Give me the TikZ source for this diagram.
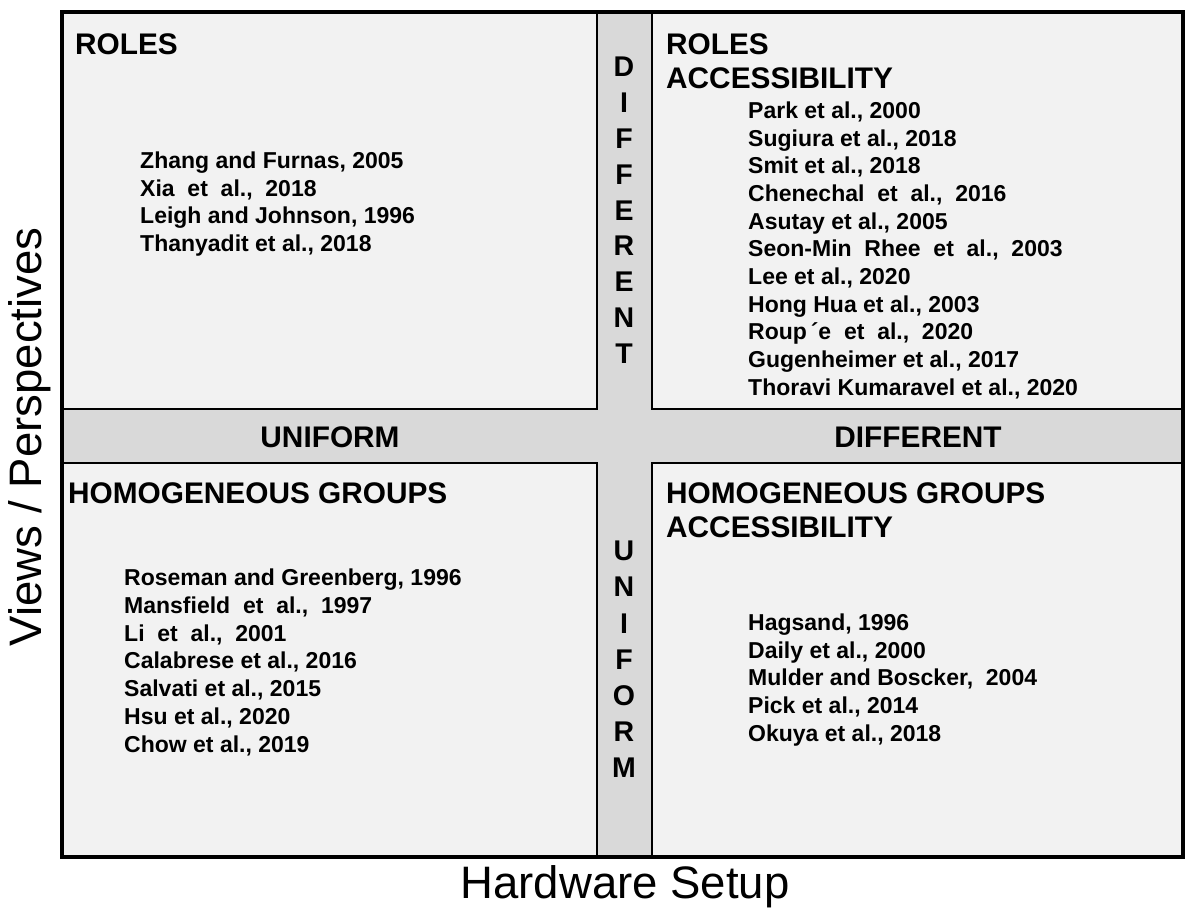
\documentclass[tikz,border=0pt]{standalone}
\usepackage{fontspec}
\setmainfont{Liberation Sans}
\definecolor{quadfill}{HTML}{F2F2F2}
\definecolor{bandfill}{HTML}{D9D9D9}
\tikzset{
  head/.style={anchor=north west, inner sep=0pt, align=left, font=\fontsize{29.8}{34}\selectfont\bfseries},
  refs/.style={anchor=north west, inner sep=0pt, align=left, font=\fontsize{23}{27.7}\selectfont\bfseries},
  letter/.style={inner sep=0pt, font=\fontsize{28.5}{30}\selectfont\bfseries},
  axislabel/.style={inner sep=0pt, font=\fontsize{45.5}{48}\selectfont}
}
\begin{document}
\begin{tikzpicture}[x=1pt,y=-1pt]
    \useasboundingbox (0,0) rectangle (1185,913);
    % Bandas y cuadrantes
    \filldraw[fill=bandfill, line width=3pt] (62,12) rectangle (1183,857);
    \filldraw[fill=quadfill, line width=2.5pt] (62,12) rectangle (597,409);
    \filldraw[fill=quadfill, line width=2.5pt] (652,12) rectangle (1183,409);
    \filldraw[fill=quadfill, line width=2.5pt] (62,463) rectangle (597,857);
    \filldraw[fill=quadfill, line width=2.5pt] (652,463) rectangle (1183,857);
    \draw[line width=3.5pt] (62,12) rectangle (1183,857);
    % Cuadrante superior izquierdo
    \node[head] (rolesL) at (75,33.5) {ROLES};
    \node[refs] (refsTL) at (140,151.5) {Zhang and Furnas, 2005\\
        Xia~ et~ al.,~ 2018\\
        Leigh and Johnson, 1996\\
        Thanyadit et al., 2018};
    % Cuadrante superior derecho
    \node[head] (rolesR) at (666,33.5) {ROLES\\ACCESSIBILITY};
    \node[refs] (refsTR) at (748,101.5) {Park et al., 2000\\
        Sugiura et al., 2018\\
        Smit et al., 2018\\
        Chenechal~ et~ al.,~ 2016\\
        Asutay et al., 2005\\
        Seon-Min~ Rhee~ et~ al.,~ 2003\\
        Lee et al., 2020\\
        Hong Hua et al., 2003\\
        Roup\,´e~ et~ al.,~ 2020\\
        Gugenheimer et al., 2017\\
        Thoravi Kumaravel et al., 2020};
    % Cuadrante inferior izquierdo
    \node[head] (homoL) at (68,482.5) {HOMOGENEOUS GROUPS};
    \node[refs] (refsBL) at (124,569) {Roseman and Greenberg, 1996\\
        Mansfield~ et~ al.,~ 1997\\
        Li~ et~ al.,~ 2001\\
        Calabrese et al., 2016\\
        Salvati et al., 2015\\
        Hsu et al., 2020\\
        Chow et al., 2019};
    % Cuadrante inferior derecho
    \node[head] (homoR) at (666,482.5) {HOMOGENEOUS GROUPS\\ACCESSIBILITY};
    \node[refs] (refsBR) at (748,613.5) {Hagsand, 1996\\
        Daily et al., 2000\\
        Mulder and Boscker,~ 2004\\
        Pick et al., 2014\\
        Okuya et al., 2018};
    % Etiquetas de las bandas
    \node[letter, font=\fontsize{29.8}{34}\selectfont\bfseries] (uniH) at (330,437) {UNIFORM};
    \node[letter, font=\fontsize{29.8}{34}\selectfont\bfseries] (diffH) at (918,437) {DIFFERENT};
    \foreach \ch [count=\i] in {D,I,F,F,E,R,E,N,T}
        \node[letter] (diff\i) at (624,{67+35.8*(\i-1)}) {\ch};
    \foreach \ch [count=\i] in {U,N,I,F,O,R,M}
        \node[letter] (uni\i) at (624,{551+36.1*(\i-1)}) {\ch};
    % Ejes
    \node[axislabel, rotate=90] (views) at (30,437) {Views / Perspectives};
    \node[axislabel] (hardware) at (625,887) {Hardware Setup};
\end{tikzpicture}
\end{document}
